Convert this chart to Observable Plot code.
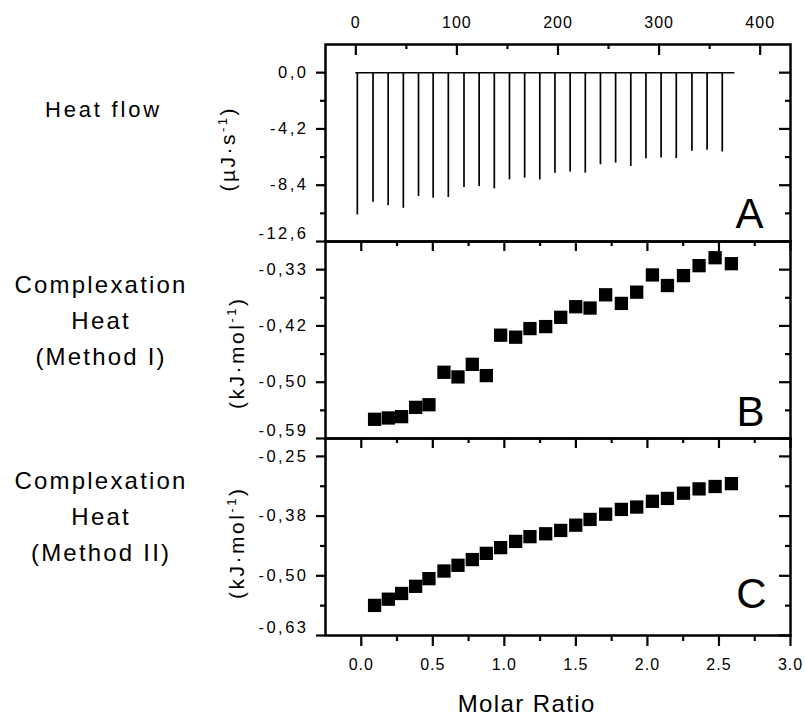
<!DOCTYPE html>
<html>
<head>
<meta charset="utf-8">
<script src="https://cdn.jsdelivr.net/npm/d3@7"></script>
<script src="https://cdn.jsdelivr.net/npm/@observablehq/plot@0.6"></script>
<style>
  html, body { margin: 0; padding: 0; background: #fff; width: 805px; height: 718px; overflow: hidden; }
  #chart { position: relative; width: 805px; height: 718px; font-family: "Liberation Sans", Arial, sans-serif; color: #000; }
  #chart svg { position: absolute; left: 0; }
  .lbl { position: absolute; white-space: nowrap; line-height: 1; color: #000; }
  .lbl sup { font-size: 0.62em; vertical-align: 0.55em; line-height: 0; }
  g[aria-label="y-axis tick label"] { letter-spacing: 2.5px; }
  g[aria-label="x-axis tick label"] { letter-spacing: 1px; }
</style>
</head>
<body>
<div id="chart"></div>
<script>
// ---------- data ----------
const injectionTime = [1.5, 17, 32, 47, 62, 76.5, 91.5, 107, 122, 137, 152, 167, 182, 197, 212, 227, 242, 257, 272, 287, 302, 317, 332.5, 347.5, 362.5];
const heatFlowPeak = [-10.62, -9.67, -9.92, -10.12, -9.25, -9.37, -9.32, -8.57, -8.5, -8.67, -8.0, -7.87, -8.0, -7.5, -7.42, -7.5, -6.87, -6.75, -7.0, -6.42, -6.37, -6.42, -5.87, -5.8, -5.92];
const baselineTime = [0, 375];

const molarRatio = [0.093, 0.189, 0.282, 0.38, 0.473, 0.578, 0.676, 0.776, 0.874, 0.974, 1.079, 1.179, 1.289, 1.394, 1.499, 1.599, 1.708, 1.818, 1.925, 2.035, 2.14, 2.252, 2.361, 2.473, 2.587];
const heatMethodI = [-0.556, -0.554, -0.552, -0.538, -0.534, -0.485, -0.492, -0.473, -0.490, -0.429, -0.432, -0.419, -0.416, -0.402, -0.386, -0.388, -0.368, -0.381, -0.364, -0.338, -0.354, -0.339, -0.324, -0.312, -0.321];
const heatMethodII = [-0.562, -0.549, -0.537, -0.522, -0.506, -0.490, -0.478, -0.466, -0.453, -0.441, -0.428, -0.418, -0.412, -0.405, -0.394, -0.382, -0.371, -0.361, -0.356, -0.344, -0.338, -0.327, -0.318, -0.313, -0.307];

// ticks
const timeTicks = [0, 100, 200, 300, 400];
const timeMinorTicks = [50, 150, 250, 350];
const ratioTicks = [0, 0.5, 1, 1.5, 2, 2.5, 3];
const ratioTickLabels = ["0.0", "0.5", "1.0", "1.5", "2.0", "2.5", "3.0"];
const ratioMinorTicks = [0.25, 0.75, 1.25, 1.75, 2.25, 2.75];
const flowTicks = [0, -4.2, -8.4, -12.6];
const flowTickLabels = ["0,0", "-4,2", "-8,4", "-12,6"];
const flowMinorTicks = [-2.1, -6.3, -10.5];
const methodITicks = [-0.33, -0.415, -0.5, -0.585];
const methodITickLabels = ["-0,33", "-0,42", "-0,50", "-0,59"];
const methodIMinorTicks = [-0.3725, -0.4575, -0.5425];
const methodIITicks = [-0.25, -0.375, -0.5, -0.625];
const methodIITickLabels = ["-0,25", "-0,38", "-0,50", "-0,63"];
const methodIIMinorTicks = [-0.3125, -0.4375, -0.5625];

// ---------- build ----------
const spikes = injectionTime.map((t, i) => ({time: t, peak: heatFlowPeak[i]}));
const tableI = molarRatio.map((r, i) => ({ratio: r, heat: heatMethodI[i]}));
const tableII = molarRatio.map((r, i) => ({ratio: r, heat: heatMethodII[i]}));

const FONT = '"Liberation Sans", Arial, sans-serif';
const W = 805, ML = 325, MR = 15, IH = 197, IW = W - ML - MR;
const baseStyle = {background: "transparent", overflow: "visible", fontFamily: FONT, fontSize: "16px", color: "black"};
const SW = 2.2;

function leftAxis(ticks, labels, minor) {
  const last = ticks.length - 1;
  const fmt = d => labels[ticks.indexOf(d)];
  return [
    Plot.ruleY(ticks, {y: d => d, insetLeft: -9, insetRight: IW, strokeWidth: SW}),
    Plot.ruleY(minor, {y: d => d, insetLeft: -5, insetRight: IW, strokeWidth: SW}),
    Plot.axisY(ticks.slice(0, last), {tickSize: 0, tickPadding: 17, tickFormat: fmt, fontSize: 16.5, label: null}),
    Plot.axisY(ticks.slice(last), {tickSize: 0, tickPadding: 17, tickFormat: fmt, fontSize: 16.5, dy: -8, label: null})
  ];
}
function rightTicks(ticks, minor) {
  return [
    Plot.ruleY(ticks, {y: d => d, insetLeft: IW - 11, strokeWidth: SW}),
    Plot.ruleY(minor, {y: d => d, insetLeft: IW - 5, strokeWidth: SW})
  ];
}
function topTicks(ticks, minor, majorLen) {
  return [
    Plot.ruleX(ticks, {x: d => d, insetBottom: IH - majorLen, strokeWidth: SW}),
    Plot.ruleX(minor, {x: d => d, insetBottom: IH - 5, strokeWidth: SW})
  ];
}
function letter(t, dx, dy) {
  return Plot.text([t], {frameAnchor: "bottom-right", dx, dy, textAnchor: "middle", lineAnchor: "bottom", fontSize: 42, fill: "black"});
}

const panelA = Plot.plot({
  width: W, height: 44 + IH, marginTop: 44, marginBottom: 0, marginLeft: ML, marginRight: MR,
  style: baseStyle,
  x: {domain: [-30, 430], axis: null, label: null},
  y: {domain: [-12.6, 2.1], axis: null, label: null},
  marks: [
    Plot.ruleY([0], {x1: baselineTime[0], x2: baselineTime[1], strokeWidth: 1.5}),
    Plot.ruleX(spikes, {x: "time", y1: 0, y2: "peak", strokeWidth: 1.7}),
    ...topTicks(timeTicks, timeMinorTicks, 11),
    Plot.axisX(timeTicks, {anchor: "top", tickSize: 0, tickPadding: 17, fontSize: 16, label: null}),
    ...leftAxis(flowTicks, flowTickLabels, flowMinorTicks),
    ...rightTicks(flowTicks, flowMinorTicks),
    letter("A", -41, -14),
    Plot.frame({stroke: "black", strokeWidth: 2.5})
  ]
});
panelA.style.top = "0px";

const panelB = Plot.plot({
  width: W, height: IH, marginTop: 0, marginBottom: 0, marginLeft: ML, marginRight: MR,
  style: baseStyle,
  x: {domain: [-0.25, 3], axis: null, label: null},
  y: {domain: [-0.585, -0.2875], axis: null, label: null},
  marks: [
    ...topTicks(ratioTicks, ratioMinorTicks, 10),
    ...leftAxis(methodITicks, methodITickLabels, methodIMinorTicks),
    ...rightTicks(methodITicks, methodIMinorTicks),
    Plot.dot(tableI, {x: "ratio", y: "heat", symbol: "square", r: 7.5, fill: "black", stroke: null}),
    letter("B", -40, -13),
    Plot.frame({stroke: "black", strokeWidth: 2.5})
  ]
});
panelB.style.top = (44 + IH) + "px";

const panelC = Plot.plot({
  width: W, height: IH + 83, marginTop: 0, marginBottom: 83, marginLeft: ML, marginRight: MR,
  style: baseStyle,
  x: {domain: [-0.25, 3], axis: null, label: null},
  y: {domain: [-0.625, -0.2125], axis: null, label: null},
  marks: [
    ...topTicks(ratioTicks, ratioMinorTicks, 10),
    Plot.ruleX(ratioTicks, {x: d => d, insetTop: IH, insetBottom: -11, strokeWidth: SW}),
    Plot.ruleX(ratioMinorTicks, {x: d => d, insetTop: IH, insetBottom: -6, strokeWidth: SW}),
    Plot.axisX(ratioTicks, {anchor: "bottom", tickSize: 0, tickPadding: 23, fontSize: 16, label: null,
      tickFormat: d => ratioTickLabels[ratioTicks.indexOf(d)]}),
    ...leftAxis(methodIITicks, methodIITickLabels, methodIIMinorTicks),
    ...rightTicks(methodIITicks, methodIIMinorTicks),
    Plot.dot(tableII, {x: "ratio", y: "heat", symbol: "square", r: 7.5, fill: "black", stroke: null}),
    letter("C", -39, -28),
    Plot.frame({stroke: "black", strokeWidth: 2.5})
  ]
});
panelC.style.top = (44 + 2 * IH) + "px";

const chart = document.getElementById("chart");
chart.append(panelA, panelB, panelC);

// ---------- outer labels ----------
function addLabel(html, css) {
  const d = document.createElement("div");
  d.className = "lbl";
  d.innerHTML = html;
  Object.assign(d.style, css);
  chart.append(d);
}
addLabel("Heat flow", {left: "102px", top: "99.4px", fontSize: "22px", letterSpacing: "2.8px", paddingLeft: "2.8px", transform: "translateX(-50%)"});
addLabel("Complexation<br>Heat<br>(Method I)", {left: "100px", top: "266.5px", fontSize: "24px", lineHeight: "36.3px", letterSpacing: "2.2px", paddingLeft: "2.2px", textAlign: "center", transform: "translateX(-50%)"});
addLabel("Complexation<br>Heat<br>(Method II)", {left: "100px", top: "462.8px", fontSize: "24px", lineHeight: "36.3px", letterSpacing: "2.2px", paddingLeft: "2.2px", textAlign: "center", transform: "translateX(-50%)"});
addLabel("(µJ·s<sup>-1</sup>)", {left: "226.7px", top: "150px", fontSize: "21px", letterSpacing: "2.5px", paddingLeft: "2.5px", transform: "translate(-50%,-50%) rotate(-90deg)"});
addLabel("(kJ·mol<sup>-1</sup>)", {left: "235.7px", top: "354px", fontSize: "21px", letterSpacing: "2.5px", paddingLeft: "2.5px", transform: "translate(-50%,-50%) rotate(-90deg)"});
addLabel("(kJ·mol<sup>-1</sup>)", {left: "235.7px", top: "544px", fontSize: "21px", letterSpacing: "2.5px", paddingLeft: "2.5px", transform: "translate(-50%,-50%) rotate(-90deg)"});
addLabel("Molar Ratio", {left: "526px", top: "690.3px", fontSize: "24px", lineHeight: "normal", letterSpacing: "1.4px", paddingLeft: "1.4px", transform: "translateX(-50%)"});
</script>
</body>
</html>
